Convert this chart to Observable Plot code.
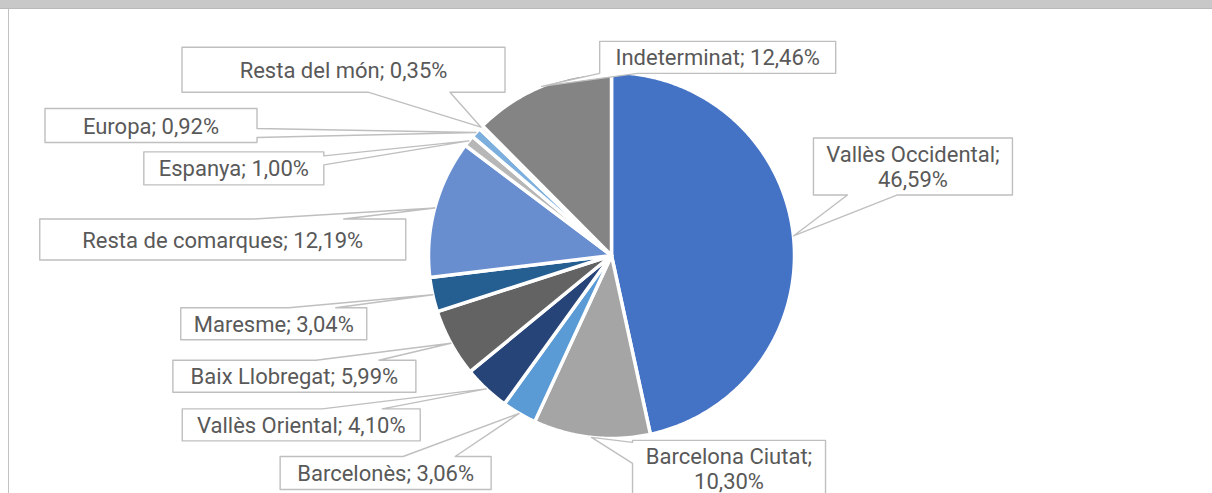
<!DOCTYPE html>
<html>
<head>
<meta charset="utf-8">
<script src="https://cdn.jsdelivr.net/npm/d3@7"></script>
<script src="https://cdn.jsdelivr.net/npm/@observablehq/plot@0.6"></script>
<style>
  html, body { margin: 0; padding: 0; background: #fff; }
  #wrap { position: relative; width: 1212px; height: 493px; overflow: hidden; }
  #topbar { position: absolute; left: 0; top: 0; width: 1212px; height: 8px; background: #c8c8c8; border-bottom: 1px solid #b9b9b9; }
  #leftline { position: absolute; left: 8px; top: 9px; width: 1px; height: 484px; background: #c2c2c2; }
  #chart { position: absolute; left: 0; top: 0; }
</style>
</head>
<body>
<div id="wrap">
  <div id="chart"></div>
  <div id="topbar"></div>
  <div id="leftline"></div>
</div>
<script>
// ---- data ----
const categories = [
  "Vallès Occidental", "Barcelona Ciutat", "Barcelonès", "Vallès Oriental",
  "Baix Llobregat", "Maresme", "Resta de comarques", "Espanya", "Europa",
  "Resta del món", "Indeterminat"
];
const values = [46.59, 10.30, 3.06, 4.10, 5.99, 3.04, 12.19, 1.00, 0.92, 0.35, 12.46];
const colors = [
  "#4472C4", "#A5A5A5", "#5B9BD5", "#264478", "#636363", "#255E91",
  "#698ED0", "#B7B7B7", "#7CAFDD", "#D9D9D9", "#848484"
];

// ---- layout (pixels): pie geometry and callout boxes relative to each slice's anchor ----
const pieCenter = [611, 255];
const pieRadius = 183;
// [dx, dy, width, height, edge of pointer, base start, base end, two-line?]
const calloutLayout = [
  [20, -98, 199, 57, "bottom", 34, 84, true],
  [41, 3, 193, 57, "left", 2, 23, true],
  [-239, 43, 211, 33, "top", 123, 175, false],
  [-304, 20, 238, 32, "top", 140, 200, false],
  [-278, 17, 243, 32, "top", 143, 206, false],
  [-252, 13, 186, 32, "top", 108, 155, false],
  [-395, 11, 366, 41, "top", 214, 304, false],
  [-325, 11, 180, 33, "right", 4, 13, false],
  [-431, -24, 212, 34, "right", 20, 29, false],
  [-299, -80, 323, 45, "bottom", 186, 268, false],
  [58, -45, 236, 32, "bottom", 0, 38, false]
];

// ---- build geometry ----
const total = d3.sum(values);
const [cx, cy] = pieCenter;
const pt = (theta, r) => [cx + r * Math.sin(theta), cy - r * Math.cos(theta)];

let acc = 0;
const slices = categories.map((name, i) => {
  const a0 = acc / total * 2 * Math.PI;
  acc += values[i];
  const a1 = acc / total * 2 * Math.PI;
  return {name, value: values[i], color: colors[i], a0, a1, mid: (a0 + a1) / 2};
});

const slicePoints = [];
for (const s of slices) {
  slicePoints.push({name: s.name, x: cx, y: cy});
  const n = Math.max(2, Math.ceil((s.a1 - s.a0) / (Math.PI / 360)));
  for (let k = 0; k <= n; k++) {
    const t = s.a0 + (s.a1 - s.a0) * k / n;
    const [x, y] = pt(t, pieRadius);
    slicePoints.push({name: s.name, x, y});
  }
}

const fmt = v => v.toFixed(2).replace(".", ",") + "%";

const calloutPoints = [];
const labelTexts = [];
slices.forEach((s, i) => {
  const [dx, dy, w, h, edge, b1, b2, twoLine] = calloutLayout[i];
  const [tx, ty] = pt(s.mid, pieRadius);
  const L = tx + dx, T = ty + dy, R = L + w, B = T + h;
  let poly;
  if (edge === "top") poly = [[L, T], [L + b1, T], [tx, ty], [L + b2, T], [R, T], [R, B], [L, B]];
  else if (edge === "bottom") poly = [[L, T], [R, T], [R, B], [L + b2, B], [tx, ty], [L + b1, B], [L, B]];
  else if (edge === "left") poly = [[L, T], [R, T], [R, B], [L, B], [L, T + b2], [tx, ty], [L, T + b1]];
  else poly = [[L, T], [R, T], [R, T + b1], [tx, ty], [R, T + b2], [R, B], [L, B]];
  poly.forEach(([x, y]) => calloutPoints.push({name: s.name, x, y}));
  labelTexts.push({
    x: (L + R) / 2, y: (T + B) / 2,
    text: s.name + ";" + (twoLine ? "\n" : " ") + fmt(s.value)
  });
});

const chart = Plot.plot({
  width: 1212,
  height: 493,
  margin: 0,
  x: {domain: [0, 1212], range: [0, 1212], axis: null},
  y: {domain: [0, 493], range: [0, 493], axis: null},
  color: {domain: categories, range: colors},
  style: {background: "transparent"},
  marks: [
    Plot.line(slicePoints, {
      x: "x", y: "y", z: "name", fill: "name",
      stroke: "white", strokeWidth: 3.5, strokeLinejoin: "round",
      curve: "linear-closed"
    }),
    Plot.line(calloutPoints, {
      x: "x", y: "y", z: "name",
      fill: "white", stroke: "#bfbfbf", strokeWidth: 1.4,
      curve: "linear-closed"
    }),
    Plot.text(labelTexts, {
      x: "x", y: "y", text: "text",
      fill: "#595959", fontSize: 22, fontFamily: "Roboto",
      lineHeight: 1.14, textAnchor: "middle", lineAnchor: "middle"
    })
  ]
});
document.getElementById("chart").appendChild(chart);
</script>
</body>
</html>
